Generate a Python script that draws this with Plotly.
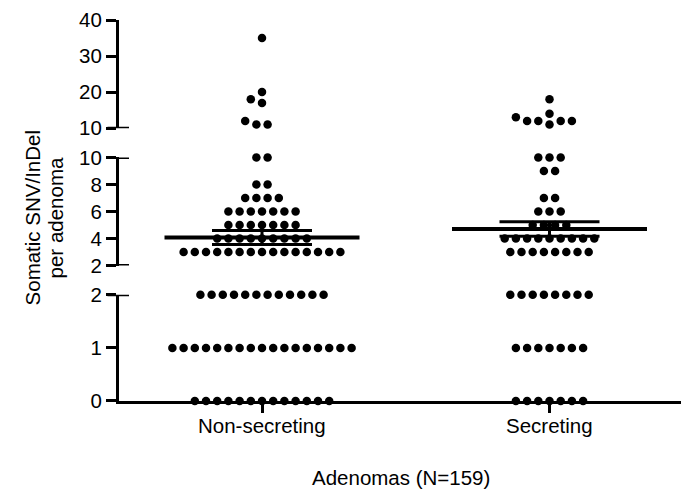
import numpy as np
import plotly.graph_objects as go

# ---------------- data ----------------
categories = ["Non-secreting", "Secreting"]
levels_nonsecreting = [0, 1, 2, 3, 4, 5, 6, 7, 8, 10, 11, 12, 17, 18, 20, 35]
counts_nonsecreting = [13, 17, 12, 15, 9, 7, 7, 4, 2, 2, 2, 1, 1, 1, 1, 1]
levels_secreting = [0, 1, 2, 3, 4, 5, 6, 7, 9, 10, 11, 12, 13, 14, 18]
counts_secreting = [7, 7, 8, 8, 9, 4, 3, 2, 2, 3, 1, 4, 1, 1, 1]

seg_ranges = [(0, 2), (2, 10), (10, 40)]
seg_ticks = [[0, 1, 2], [2, 4, 6, 8, 10], [10, 20, 30, 40]]

y_title = ["Somatic SNV/InDel", "per adenoma"]
x_title = "Adenomas (N=159)"

# ---------------- layout geometry ----------------
# the page body has an 8px margin, so the figure is drawn 8px in from the corner
OFF = 8
W, H = 689 - OFF, 495 - OFF
ML, MR, MT, MB = 119 - OFF, 0, 17 - OFF, 94
PW, PH = W - ML - MR, H - MT - MB
plot_bottom = MT + PH  # figure coords
plot_left_win = ML + OFF
# pixel rows (window coords) of the segment ends (bottom, top) for each segment
seg_px = [(401, 294), (264.5, 155.5), (126, 17)]
domains = [[(plot_bottom + OFF - b) / PH, (plot_bottom + OFF - t) / PH] for b, t in seg_px]
domains[0][0] = 0.0
domains[2][1] = 1.0

cat_px = [262, 549.5]
px_per_x = cat_px[1] - cat_px[0]
x_range = [-(cat_px[0] - plot_left_win) / px_per_x, 1 + (689 - cat_px[1]) / px_per_x]
dot_d = 8.5
step_px = 11.2


def seg_of(v):
    if v <= 2:
        return 0
    if v <= 10:
        return 1
    return 2


def to_px(v):
    s = seg_of(v)
    lo, hi = seg_ranges[s]
    b, t = seg_px[s]
    return b + (v - lo) / (hi - lo) * (t - b)


def swarm(levels, counts):
    placed = []  # (xoff_px, ypx)
    out = []

    def ok(xo, yp):
        for px, py in placed:
            if (px - xo) ** 2 + (py - yp) ** 2 < (dot_d * 0.98) ** 2:
                return False
        return True

    for v, n in sorted(zip(levels, counts)):
        yp = to_px(v)
        cent = [(i - (n - 1) / 2) * step_px for i in range(n)]
        if all(ok(c, yp) for c in cent):
            for c in cent:
                placed.append((c, yp))
                out.append((c, v))
            continue
        for _ in range(n):
            k = 0
            while True:
                cands = [0.0] if k == 0 else [-k * step_px / 2, k * step_px / 2]
                done = False
                for c in cands:
                    if ok(c, yp):
                        placed.append((c, yp))
                        out.append((c, v))
                        done = True
                        break
                if done:
                    break
                k += 1
    return out


groups = [(levels_nonsecreting, counts_nonsecreting), (levels_secreting, counts_secreting)]
yaxes = ["y", "y2", "y3"]

fig = go.Figure()
for gi, (lv, ct) in enumerate(groups):
    pts = swarm(lv, ct)
    for s in range(3):
        xs = [gi + xo / px_per_x for xo, v in pts if seg_of(v) == s]
        ys = [v for xo, v in pts if seg_of(v) == s]
        if not xs:
            continue
        fig.add_trace(go.Scatter(
            x=xs, y=ys, mode="markers", xaxis="x", yaxis=yaxes[s],
            marker=dict(size=dot_d, color="black", line=dict(width=0)),
            cliponaxis=False, showlegend=False, hoverinfo="skip"))

mean_half = 97.5 / px_per_x
sem_half = 50 / px_per_x
for gi, (lv, ct) in enumerate(groups):
    data = np.repeat(lv, ct).astype(float)
    m = data.mean()
    sem = data.std(ddof=1) / np.sqrt(len(data))
    fig.add_trace(go.Scatter(x=[gi - mean_half, gi + mean_half], y=[m, m], mode="lines",
                             xaxis="x", yaxis="y2", line=dict(color="black", width=4),
                             showlegend=False, hoverinfo="skip", cliponaxis=False))
    for yy in (m - sem, m + sem):
        fig.add_trace(go.Scatter(x=[gi - sem_half, gi + sem_half], y=[yy, yy], mode="lines",
                                 xaxis="x", yaxis="y2", line=dict(color="black", width=3),
                                 showlegend=False, hoverinfo="skip", cliponaxis=False))
    fig.add_trace(go.Scatter(x=[gi, gi], y=[m - sem, m + sem], mode="lines",
                             xaxis="x", yaxis="y2", line=dict(color="black", width=3),
                             showlegend=False, hoverinfo="skip", cliponaxis=False))

font = dict(family="Liberation Sans, Arial, sans-serif", size=20.5, color="black")
axis_common = dict(showline=True, linewidth=3, linecolor="black", ticks="outside",
                   ticklen=10, tickwidth=3, tickcolor="black", showgrid=False,
                   zeroline=False, tickfont=font, fixedrange=True)

layout = dict(
    width=W, height=H, margin=dict(l=ML, r=MR, t=MT, b=MB, pad=0),
    paper_bgcolor="white", plot_bgcolor="white", font=font, showlegend=False,
    xaxis=dict(range=x_range, tickvals=[0, 1], ticktext=categories, anchor="y",
               showticklabels=False, **{**axis_common, "ticklen": 9}),
)
for s, name in enumerate(["yaxis", "yaxis2", "yaxis3"]):
    layout[name] = dict(range=list(seg_ranges[s]), domain=domains[s], tickvals=seg_ticks[s],
                        ticktext=[str(t) for t in seg_ticks[s]], anchor="x", **axis_common)
fig.update_layout(**layout)

# break caps at the segment ends
shapes = []
for yref, val in [("y", 2), ("y2", 2), ("y2", 10), ("y3", 10)]:
    shapes.append(dict(type="line", xref="paper", yref=yref, xsizemode="pixel", xanchor=0,
                       x0=-11.5, x1=10, y0=val, y1=val, line=dict(color="black", width=3)))
fig.update_layout(shapes=shapes)


def px_x(px):
    return (px - OFF - ML) / PW


def px_y(py):
    return (plot_bottom - (py - OFF)) / PH


# category labels
for i, cat in enumerate(categories):
    fig.add_annotation(text=cat, xref="x", yref="paper", x=i, y=px_y(426),
                       showarrow=False, xanchor="center", yanchor="middle", font=font)

fig.add_annotation(text=y_title[0], xref="paper", yref="paper", x=px_x(32), y=px_y(217),
                   textangle=-90, showarrow=False, xanchor="center", yanchor="middle", font=font)
fig.add_annotation(text=y_title[1], xref="paper", yref="paper", x=px_x(55), y=px_y(217),
                   textangle=-90, showarrow=False, xanchor="center", yanchor="middle", font=font)
fig.add_annotation(text=x_title, xref="paper", yref="paper", x=px_x(401), y=px_y(478),
                   showarrow=False, xanchor="center", yanchor="middle", font=font)

fig.write_html("out.html")
